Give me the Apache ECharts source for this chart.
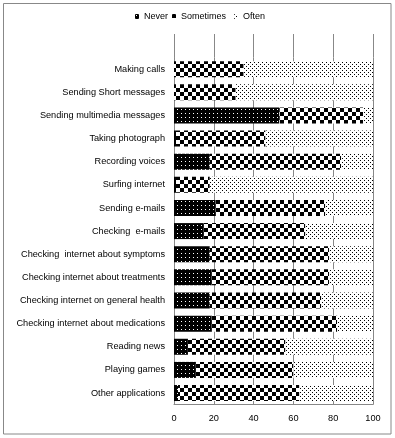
<!DOCTYPE html>
<html><head><meta charset="utf-8">
<script src="https://cdn.jsdelivr.net/npm/echarts@6/dist/echarts.min.js"></script>
<style>html,body{margin:0;padding:0;background:#fff}#c{width:395px;height:438px}</style>
</head><body><div id="c"></div>
<script>
const categories = ["Making calls","Sending Short messages","Sending multimedia messages","Taking photograph","Recording voices","Surfing internet","Sending e-mails","Checking  e-mails","Checking  internet about symptoms","Checking internet about treatments","Checking internet on general health","Checking internet about medications","Reading news","Playing games","Other applications"];
const seriesNames = ["Never","Sometimes","Often"];
const never     = [0, 0, 53, 1, 18, 1, 21, 15, 18, 19, 18, 19, 7, 11, 2];
const sometimes = [35, 31, 42, 45, 66, 17, 55, 51, 60, 59, 56, 63, 49, 49, 61];
const often     = [65, 69, 5, 54, 16, 82, 24, 34, 22, 22, 26, 18, 44, 40, 37];
const xTicks = {min: 0, max: 100, interval: 20};

function makePattern(w, h, bg, fg, rects) {
  const c = document.createElement('canvas');
  c.width = w; c.height = h;
  const ctx = c.getContext('2d');
  ctx.fillStyle = bg; ctx.fillRect(0, 0, w, h);
  ctx.fillStyle = fg;
  rects.forEach(r => ctx.fillRect(r[0], r[1], r[2], r[3]));
  return {image: c, repeat: 'repeat'};
}
const patNever = makePattern(4, 4, '#000', '#fff', [[1,1,1,1]]);
const patSometimes = makePattern(8, 8, '#fff', '#000', [[0,0,4,4],[4,4,4,4]]);
const patOften = makePattern(4, 4, '#fff', '#000', [[0,0,1,1],[2,2,1,1]]);
const patterns = [patNever, patSometimes, patOften];
const values = [never, sometimes, often];

const font = 'Liberation Sans, Arial, sans-serif';
const legendLefts = [135, 172, 234];
const chart = echarts.init(document.getElementById('c'), null, {renderer: 'canvas'});
chart.setOption({
  animation: false,
  backgroundColor: '#fff',
  legend: seriesNames.map((name, i) => ({
    data: [name],
    left: legendLefts[i], top: 12, padding: 0,
    itemWidth: 4, itemHeight: 5,
    textStyle: {fontFamily: font, fontSize: 9, color: '#000'}
  })),
  graphic: [{
    type: 'rect', shape: {x: 3.5, y: 3.5, width: 387.5, height: 430.5},
    style: {fill: 'none', stroke: '#888', lineWidth: 1}, silent: true, z: -1
  }],
  grid: [
    {left: 174, right: 22, top: 57.6, bottom: 33.4, containLabel: false},
    {left: 174, right: 22, top: 34, height: 23.6, containLabel: false}
  ],
  xAxis: [{
    type: 'value', gridIndex: 0, min: xTicks.min, max: xTicks.max, interval: xTicks.interval,
    axisLine: {show: true, lineStyle: {color: '#888', width: 1}},
    axisTick: {show: false},
    axisLabel: {fontFamily: font, fontSize: 9.2, color: '#000', margin: 9},
    splitLine: {show: true, lineStyle: {color: '#888', width: 1}}
  }, {
    type: 'value', gridIndex: 1, min: xTicks.min, max: xTicks.max, interval: xTicks.interval,
    axisLine: {show: false}, axisTick: {show: false}, axisLabel: {show: false},
    splitLine: {show: true, lineStyle: {color: '#888', width: 1}}
  }],
  yAxis: [{
    type: 'category', gridIndex: 0, inverse: true, data: categories,
    axisLine: {show: true, lineStyle: {color: '#888', width: 1}},
    axisTick: {show: false},
    axisLabel: {fontFamily: font, fontSize: 9.2, color: '#000', margin: 9}
  }, {
    type: 'value', gridIndex: 1, min: 0, max: 1, show: false
  }],
  series: seriesNames.map((name, i) => ({
    name: name, type: 'bar', stack: 'total', barWidth: 16,
    xAxisIndex: 0, yAxisIndex: 0,
    itemStyle: {color: patterns[i], borderWidth: 0},
    emphasis: {disabled: true},
    data: values[i]
  }))
});
</script></body></html>
